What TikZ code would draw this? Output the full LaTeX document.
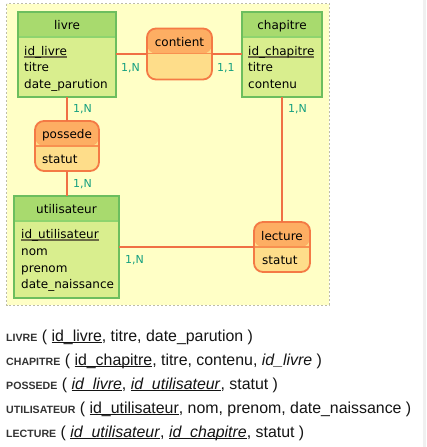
\documentclass[tikz,border=0pt]{standalone}
\usepackage{fontspec}
\setmainfont{DejaVu Sans}
\newfontfamily\arialf{Liberation Sans}
\newfontfamily\arialbf{Liberation Sans Bold}
\usetikzlibrary{calc}
\definecolor{bgyellow}{HTML}{FFFFC6}
\definecolor{dashgray}{HTML}{BDBDA8}
\definecolor{stripgray}{HTML}{F0F0F0}
\definecolor{entborder}{HTML}{6CBE5E}
\definecolor{enthead}{HTML}{A8DA6E}
\definecolor{entbody}{HTML}{D9EE8E}
\definecolor{entdiv}{HTML}{8ED46E}
\definecolor{assborder}{HTML}{F47A45}
\definecolor{asshead}{HTML}{FDAE63}
\definecolor{assbody}{HTML}{FEDD8A}
\definecolor{assdiv}{HTML}{F89050}
\definecolor{linkcol}{HTML}{F07045}
\definecolor{cardcol}{HTML}{16A080}
\definecolor{ulcol}{HTML}{6B6B45}
\definecolor{scgray}{HTML}{333333}
\newcommand\ulid[1]{\leavevmode\setbox0\hbox{#1}\rlap{\raisebox{-2.6pt}{\color{ulcol}\rule{\wd0}{1.8pt}}}\box0}
\newcommand\ulb[1]{\leavevmode\setbox0\hbox{#1}\rlap{\raisebox{-2.4pt}{\rule{\wd0}{1pt}}}\box0}
\newcommand\scb[1]{{\arialbf\fontsize{10.6}{12}\selectfont\color{scgray}#1}}
\begin{document}
\begin{tikzpicture}[x=1pt,y=-1pt,
  entity/.style={draw=entborder, line width=1.8pt, fill=entbody, inner sep=0pt, outer sep=0pt,
    path picture={\fill[enthead] (path picture bounding box.north west) rectangle ([yshift=-25pt]path picture bounding box.north east);
      \draw[entdiv, line width=1.2pt] ([yshift=-25pt]path picture bounding box.north west) -- ([yshift=-25pt]path picture bounding box.north east);}},
  assoc/.style={draw=assborder, line width=1.8pt, fill=assbody, rounded corners=9pt, inner sep=0pt, outer sep=0pt,
    path picture={\fill[asshead] (path picture bounding box.north west) rectangle ([yshift=-25pt]path picture bounding box.north east);
      \draw[assdiv, line width=1.2pt] ([yshift=-25pt]path picture bounding box.north west) -- ([yshift=-25pt]path picture bounding box.north east);}},
  hdr/.style={anchor=base, inner sep=0pt, font=\fontsize{12}{14}\selectfont, text=black},
  attr/.style={anchor=base west, inner sep=0pt, font=\fontsize{12}{14}\selectfont, text=black},
  card/.style={anchor=base west, inner sep=0pt, font=\fontsize{11}{13}\selectfont, text=cardcol},
  link/.style={draw=linkcol, line width=1.8pt},
  rel/.style={anchor=base west, inner sep=0pt, font=\arialf\fontsize{15.9}{18}\selectfont, text=black!92}
]
\useasboundingbox (0,0) rectangle (426,447);
\fill[white] (0,0) rectangle (426,447);
\fill[stripgray] (423,0) rectangle (426,447);
\filldraw[fill=bgyellow, draw=dashgray, line width=0.8pt, dash pattern=on 2pt off 2pt] (6.5,3.5) rectangle (329,305);

\node[entity, minimum width=98pt, minimum height=85pt] (livre) at (67,54.5) {};
\node[entity, minimum width=80pt, minimum height=85pt] (chapitre) at (282,54.5) {};
\node[entity, minimum width=105pt, minimum height=102pt] (utilisateur) at (66.5,247) {};
\node[assoc, minimum width=65pt, minimum height=51pt] (contient) at (179.5,54) {};
\node[assoc, minimum width=64pt, minimum height=50pt] (possede) at (67,146) {};
\node[assoc, minimum width=56pt, minimum height=50pt] (lecture) at (282,247) {};

\draw[link] (contient.west -| livre.east) -- (contient.west);
\draw[link] (contient.east) -- (contient.east -| chapitre.west);
\draw[link] (livre.south) -- (possede.north);
\draw[link] (possede.south) -- (possede.south |- utilisateur.north);
\draw[link] (chapitre.south) -- (lecture.north);
\draw[link] (utilisateur.east) -- (lecture.west);

\node[hdr] (livre-h) at ($(livre.north)+(0,17.5)$) {livre};
\node[attr] (livre-a1) at ($(livre.north west)+(6,43)$) {\ulid{id\_livre}};
\node[attr] (livre-a2) at ($(livre.north west)+(6,59.7)$) {titre};
\node[attr] (livre-a3) at ($(livre.north west)+(6,76.4)$) {date\_parution};

\node[hdr] (chapitre-h) at ($(chapitre.north)+(0,17.5)$) {chapitre};
\node[attr] (chapitre-a1) at ($(chapitre.north west)+(6,43)$) {\ulid{id\_chapitre}};
\node[attr] (chapitre-a2) at ($(chapitre.north west)+(6,59.7)$) {titre};
\node[attr] (chapitre-a3) at ($(chapitre.north west)+(6,76.4)$) {contenu};

\node[hdr] (utilisateur-h) at ($(utilisateur.north)+(0,17.5)$) {utilisateur};
\node[attr] (utilisateur-a1) at ($(utilisateur.north west)+(7,42.5)$) {\ulid{id\_utilisateur}};
\node[attr] (utilisateur-a2) at ($(utilisateur.north west)+(7,59.3)$) {nom};
\node[attr] (utilisateur-a3) at ($(utilisateur.north west)+(7,76.1)$) {prenom};
\node[attr] (utilisateur-a4) at ($(utilisateur.north west)+(7,92.9)$) {date\_naissance};

\node[hdr] (contient-h) at ($(contient.north)+(0,18)$) {contient};
\node[hdr] (possede-h) at ($(possede.north)+(0,17.5)$) {possede};
\node[attr] (possede-a1) at ($(possede.north west)+(7,42.5)$) {statut};
\node[hdr] (lecture-h) at ($(lecture.north)+(0,18)$) {lecture};
\node[attr] (lecture-a1) at ($(lecture.north west)+(8,42)$) {statut};

\node[card] (c1) at (121,71) {1,N};
\node[card] (c2) at (217,71) {1,1};
\node[card] (c3) at (73,112.5) {1,N};
\node[card] (c4) at (73,187.5) {1,N};
\node[card] (c5) at (288,112.5) {1,N};
\node[card] (c6) at (125,263) {1,N};

\node[rel] (r1) at (6,341) {\scb{LIVRE} ( \ulb{id\_livre}, titre, date\_parution )};
\node[rel] (r2) at (6,365) {\scb{CHAPITRE} ( \ulb{id\_chapitre}, titre, contenu, \textit{id\_livre} )};
\node[rel] (r3) at (6,389) {\scb{POSSEDE} ( \ulb{\textit{id\_livre}}, \ulb{\textit{id\_utilisateur}}, statut )};
\node[rel] (r4) at (6,413) {\scb{UTILISATEUR} ( \ulb{id\_utilisateur}, nom, prenom, date\_naissance )};
\node[rel] (r5) at (6,437) {\scb{LECTURE} ( \ulb{\textit{id\_utilisateur}}, \ulb{\textit{id\_chapitre}}, statut )};
\end{tikzpicture}
\end{document}
